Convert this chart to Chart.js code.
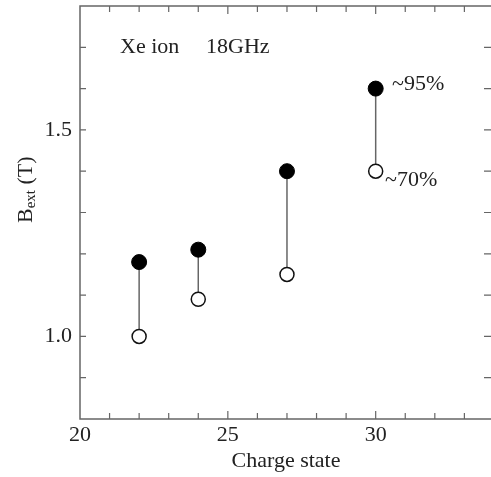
<!DOCTYPE html>
<html>
<head>
<meta charset="utf-8">
<script src="https://cdn.jsdelivr.net/npm/chart.js@4.4.1/dist/chart.umd.min.js"></script>
<style>
  html, body { margin: 0; padding: 0; background: #fff; }
  #c { display: block; }
</style>
</head>
<body>
<canvas id="c" width="491" height="477"></canvas>
<script>
// charge states and the two field values for each
const chargeStates = [22, 24, 27, 30];
const bextHigh = [1.18, 1.21, 1.40, 1.60];   // filled, ~95%
const bextLow = [1.00, 1.09, 1.15, 1.40];    // open, ~70%
const xMajorLabels = [20, 25, 30];
const yMajorLabels = [1.0, 1.5];

const serif = '"Liberation Serif", "Times New Roman", serif';
const axisColor = '#666';
const textColor = '#222';

// one small line per charge state, joining the two points
const stems = chargeStates.map(function(q, i) {
  return {
    type: 'line',
    data: [{x: q, y: bextLow[i]}, {x: q, y: bextHigh[i]}],
    borderColor: '#666',
    borderWidth: 1.5,
    pointRadius: 0,
    showLine: true,
    order: 2
  };
});

const framePlugin = {
  id: 'frame',
  beforeDatasetsDraw(chart) {
    const ctx = chart.ctx;
    const a = chart.chartArea;
    const xs = chart.scales.x, ys = chart.scales.y;
    ctx.save();
    ctx.strokeStyle = axisColor;
    ctx.lineWidth = 1.5;
    ctx.beginPath();
    ctx.moveTo(a.right + 2, a.top);
    ctx.lineTo(a.left, a.top);
    ctx.lineTo(a.left, a.bottom);
    ctx.lineTo(a.right + 2, a.bottom);
    ctx.stroke();

    ctx.lineWidth = 1.2;
    ctx.beginPath();
    xs.ticks.forEach(function(t) {
      const px = xs.getPixelForValue(t.value);
      if (px < a.left + 2 || px > a.right - 2) return;
      const len = xMajorLabels.indexOf(Math.round(t.value)) >= 0 ? 8 : 6;
      ctx.moveTo(px, a.bottom);
      ctx.lineTo(px, a.bottom - len);
      ctx.moveTo(px, a.top);
      ctx.lineTo(px, a.top + len);
    });
    ys.ticks.forEach(function(t) {
      const py = ys.getPixelForValue(t.value);
      if (py < a.top + 2 || py > a.bottom - 2) return;
      ctx.moveTo(a.left, py);
      ctx.lineTo(a.left + 6, py);
      ctx.moveTo(a.right, py);
      ctx.lineTo(a.right - 7, py);
    });
    ctx.stroke();
    ctx.restore();
  },
  afterDraw(chart) {
    const ctx = chart.ctx;
    ctx.save();
    ctx.fillStyle = textColor;
    ctx.font = '22px ' + serif;
    ctx.textBaseline = 'alphabetic';
    ctx.textAlign = 'left';
    ctx.fillText('Xe ion', 120, 53);
    ctx.fillText('18GHz', 206, 53);
    ctx.fillText('~95%', 392, 90);
    ctx.fillText('~70%', 385, 186);

    ctx.textAlign = 'center';
    ctx.fillText('Charge state', 286, 467);
    ctx.textAlign = 'left';

    // y title: B with subscript ext, rotated
    ctx.translate(32, 223);
    ctx.rotate(-Math.PI / 2);
    ctx.font = '22px ' + serif;
    ctx.fillText('B', 0, 0);
    let w = ctx.measureText('B').width;
    ctx.font = '15px ' + serif;
    ctx.fillText('ext', w, 3);
    w += ctx.measureText('ext').width;
    ctx.font = '22px ' + serif;
    ctx.fillText(' (T)', w, 0);
    ctx.restore();
  }
};

new Chart(document.getElementById('c'), {
  type: 'scatter',
  data: {
    datasets: [{
      data: chargeStates.map(function(q, i) { return {x: q, y: bextHigh[i]}; }),
      backgroundColor: '#000',
      borderColor: '#000',
      borderWidth: 1,
      pointRadius: 7.5,
      order: 0
    }, {
      data: chargeStates.map(function(q, i) { return {x: q, y: bextLow[i]}; }),
      backgroundColor: '#fff',
      borderColor: '#111',
      borderWidth: 1.5,
      pointRadius: 7,
      order: 1
    }].concat(stems)
  },
  options: {
    responsive: false,
    animation: false,
    devicePixelRatio: 1,
    layout: { autoPadding: false, padding: { top: 6, right: 0, left: 0, bottom: 0 } },
    plugins: { legend: { display: false }, tooltip: { enabled: false } },
    scales: {
      x: {
        type: 'linear',
        min: 20,
        max: 33.9,
        border: { display: false },
        grid: { display: false, drawTicks: false },
        ticks: {
          stepSize: 1,
          includeBounds: false,
          padding: 3,
          color: textColor,
          font: { family: serif, size: 22 },
          maxRotation: 0,
          autoSkip: false,
          callback: function(v) {
            return xMajorLabels.indexOf(Math.round(v)) >= 0 && Math.abs(v - Math.round(v)) < 1e-6 ? String(Math.round(v)) : '';
          }
        },
        afterFit: function(s) {
          s.height = 58;
          s.paddingLeft = 0;
          s.paddingRight = 0;
        }
      },
      y: {
        type: 'linear',
        min: 0.8,
        max: 1.8,
        border: { display: false },
        grid: { display: false, drawTicks: false },
        ticks: {
          stepSize: 0.1,
          includeBounds: false,
          padding: 8,
          color: textColor,
          font: { family: serif, size: 22 },
          autoSkip: false,
          callback: function(v) {
            const r = Math.round(v * 10) / 10;
            return yMajorLabels.some(function(m) { return Math.abs(m - r) < 1e-6; }) ? r.toFixed(1) : '';
          }
        },
        afterFit: function(s) {
          s.width = 80;
          s.paddingTop = 0;
          s.paddingBottom = 0;
        }
      }
    }
  },
  plugins: [framePlugin]
});
</script>
</body>
</html>
